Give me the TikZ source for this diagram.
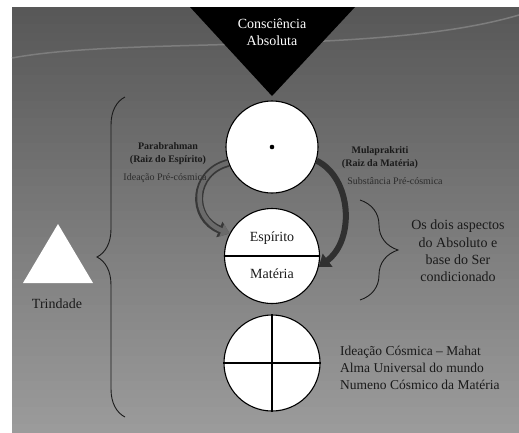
\documentclass[tikz,border=0pt]{standalone}
\usepackage{fontspec}
\setmainfont{Liberation Serif}
\usetikzlibrary{arrows.meta,decorations.pathreplacing}
\definecolor{bgtop}{HTML}{585858}
\definecolor{bgbot}{HTML}{9C9C9C}
\definecolor{txtgray}{HTML}{1A1A1A}
\definecolor{subgray}{HTML}{2C2C2C}
\definecolor{arrowlight}{HTML}{6A6A6A}
\definecolor{arrowedge}{HTML}{383838}
\definecolor{arrowdark}{HTML}{303030}

\begin{document}
\begin{tikzpicture}[x=1pt,y=-1pt,
  disc/.style={circle,draw=black,line width=1.1pt,fill=white,inner sep=0pt},
  lbl/.style={text=txtgray,align=center,inner sep=0pt},
  flow/.style={line width=6pt,-{Triangle[width=16pt,length=11pt]}},
  brc/.style={draw=txtgray,line width=0.9pt,decorate,decoration={brace,amplitude=#1}}]
\useasboundingbox (0,0) rectangle (519,432);
%
\foreach \i in {0,...,49} {
  \pgfmathsetmacro\p{\i*2}
  \fill[bgbot!\p!bgtop] (12,{7+\i*8.5}) rectangle (519,{7+(\i+1)*8.5+0.6});
}
\draw[bgtop!78!white,line width=1.5pt] (12,58) .. controls (130,36) and (380,56) .. (519,15);
%
\fill[black] (190,7) -- (355,7) -- (272,96) -- cycle;
\node[lbl,text=white,font=\fontsize{14}{17}\selectfont] (abs) at (272,32) {Consciência\\Absoluta};

%
\node[disc,minimum size=92pt] (topc) at (272,147) {};
\fill (topc.center) circle (2.3pt);
\node[disc,minimum size=95pt] (midc) at (272,256) {};
\draw[line width=1.1pt] (midc.west) -- (midc.east);
\node[lbl,font=\fontsize{14}{16}\selectfont] (spirit) at (272,238) {Espírito};
\node[lbl,font=\fontsize{14}{16}\selectfont] (matter) at (272,274) {Matéria};
\node[disc,minimum size=96pt] (botc) at (272,363) {};
\draw[line width=1.1pt] (botc.west) -- (botc.east);
\draw[line width=1.1pt] (botc.north) -- (botc.south);

%
\draw[flow,arrowedge,line width=8pt] (topc.200) .. controls (192,172) and (190,218) .. (midc.152);
\draw[flow,arrowlight,line width=4.5pt,-{Triangle[width=13pt,length=8.5pt]}] (topc.200) .. controls (192,172) and (190,218) .. (midc.152);
\draw[flow,arrowdark] (topc.343) .. controls (352,178) and (355,240) .. (midc.347);

%
\node[lbl,font=\fontsize{10}{13}\selectfont\bfseries] (para) at (168,153.5) {Parabrahman\\(Raiz do Espírito)};
\node[lbl,text=subgray,font=\fontsize{10}{12}\selectfont] (ideapre) at (165,178) {Ideação Pré-cósmica};
\node[lbl,font=\fontsize{10}{13}\selectfont\bfseries] (mula) at (380,157.5) {Mulaprakriti\\(Raiz da Matéria)};
\node[lbl,text=subgray,font=\fontsize{10}{12}\selectfont] (subst) at (395,181) {Substância Pré-cósmica};

%
\coordinate (rbtop) at (360,200);
\coordinate (rbbot) at (360,300);
\draw[brc=38pt] (rbtop) -- (rbbot);
\node[lbl,font=\fontsize{14}{17.3}\selectfont] (aspects) at (458,251) {Os dois aspectos\\do Absoluto e\\base do Ser\\condicionado};

%
\coordinate (lbtop) at (125,97);
\coordinate (lbbot) at (125,417);
\draw[brc=28pt] (lbbot) -- (lbtop);
\fill[white] (58,224) -- (93,283) -- (23,283) -- cycle;
\node[lbl,font=\fontsize{14}{16}\selectfont] (trin) at (57,304) {Trindade};

%
\node[lbl,align=left,anchor=west,font=\fontsize{13.5}{17}\selectfont] (cosmic) at (340,368)
  {Ideação Cósmica -- Mahat\\Alma Universal do mundo\\Numeno Cósmico da Matéria};
\end{tikzpicture}
\end{document}
